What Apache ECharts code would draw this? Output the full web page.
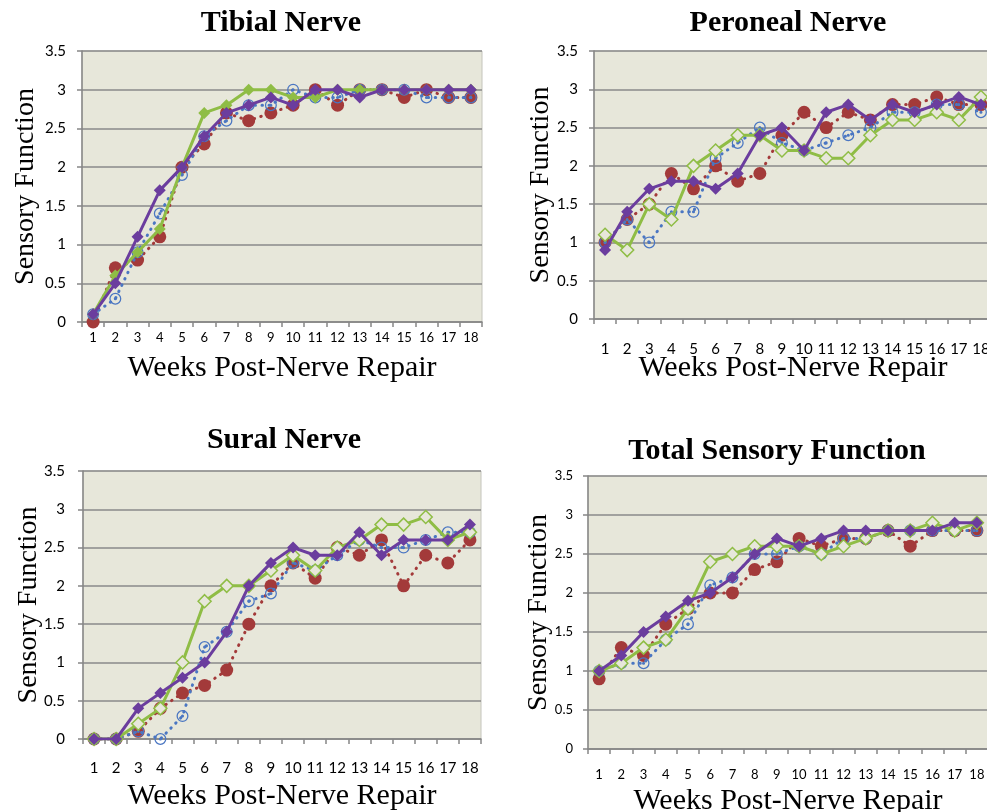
<!DOCTYPE html>
<html>
<head>
<meta charset="utf-8">
<script src="https://cdn.jsdelivr.net/npm/echarts@6/dist/echarts.min.js"></script>
<style>
html,body{margin:0;padding:0;background:#fff;}
#chart{width:987px;height:812px;}
</style>
</head>
<body>
<div id="chart"></div>
<script>
// ---- data ----
const weeks = ['1','2','3','4','5','6','7','8','9','10','11','12','13','14','15','16','17','18'];
const yMin = 0, yMax = 3.5, yStep = 0.5;

const panelTitles = ['Tibial Nerve', 'Peroneal Nerve', 'Sural Nerve', 'Total Sensory Function'];
const yAxisTitle = 'Sensory Function';
const xAxisTitle = 'Weeks Post-Nerve Repair';

// Tibial nerve
const tibialRed    = [0, 0.7, 0.8, 1.1, 2.0, 2.3, 2.7, 2.6, 2.7, 2.8, 3.0, 2.8, 3.0, 3.0, 2.9, 3.0, 2.9, 2.9];
const tibialBlue   = [0.1, 0.3, 0.9, 1.4, 1.9, 2.4, 2.6, 2.8, 2.8, 3.0, 2.9, 2.9, 3.0, 3.0, 3.0, 2.9, 2.9, 2.9];
const tibialGreen  = [0.1, 0.6, 0.9, 1.2, 2.0, 2.7, 2.8, 3.0, 3.0, 2.9, 2.9, 3.0, 3.0, 3.0, 3.0, 3.0, 3.0, 3.0];
const tibialPurple = [0.1, 0.5, 1.1, 1.7, 2.0, 2.4, 2.7, 2.8, 2.9, 2.8, 3.0, 3.0, 2.9, 3.0, 3.0, 3.0, 3.0, 3.0];

// Peroneal nerve
const peronealRed    = [1.0, 1.3, 1.5, 1.9, 1.7, 2.0, 1.8, 1.9, 2.4, 2.7, 2.5, 2.7, 2.6, 2.8, 2.8, 2.9, 2.8, 2.8];
const peronealBlue   = [1.0, 1.3, 1.0, 1.4, 1.4, 2.1, 2.3, 2.5, 2.3, 2.2, 2.3, 2.4, 2.5, 2.7, 2.7, 2.8, 2.8, 2.7];
const peronealGreen  = [1.1, 0.9, 1.5, 1.3, 2.0, 2.2, 2.4, 2.4, 2.2, 2.2, 2.1, 2.1, 2.4, 2.6, 2.6, 2.7, 2.6, 2.9];
const peronealPurple = [0.9, 1.4, 1.7, 1.8, 1.8, 1.7, 1.9, 2.4, 2.5, 2.2, 2.7, 2.8, 2.6, 2.8, 2.7, 2.8, 2.9, 2.8];

// Sural nerve
const suralRed    = [0, 0, 0.1, 0.4, 0.6, 0.7, 0.9, 1.5, 2.0, 2.3, 2.1, 2.5, 2.4, 2.6, 2.0, 2.4, 2.3, 2.6];
const suralBlue   = [0, 0, 0.1, 0.0, 0.3, 1.2, 1.4, 1.8, 1.9, 2.3, 2.2, 2.4, 2.6, 2.5, 2.5, 2.6, 2.7, 2.7];
const suralGreen  = [0, 0, 0.2, 0.4, 1.0, 1.8, 2.0, 2.0, 2.2, 2.4, 2.2, 2.5, 2.6, 2.8, 2.8, 2.9, 2.6, 2.7];
const suralPurple = [0, 0, 0.4, 0.6, 0.8, 1.0, 1.4, 2.0, 2.3, 2.5, 2.4, 2.4, 2.7, 2.4, 2.6, 2.6, 2.6, 2.8];

// Total sensory function
const totalRed    = [0.9, 1.3, 1.2, 1.6, 1.8, 2.0, 2.0, 2.3, 2.4, 2.7, 2.6, 2.7, 2.7, 2.8, 2.6, 2.8, 2.8, 2.8];
const totalBlue   = [1.0, 1.1, 1.1, 1.4, 1.6, 2.1, 2.2, 2.5, 2.5, 2.6, 2.5, 2.7, 2.7, 2.8, 2.8, 2.8, 2.8, 2.8];
const totalGreen  = [1.0, 1.1, 1.3, 1.4, 1.8, 2.4, 2.5, 2.6, 2.6, 2.6, 2.5, 2.6, 2.7, 2.8, 2.8, 2.9, 2.8, 2.9];
const totalPurple = [1.0, 1.2, 1.5, 1.7, 1.9, 2.0, 2.2, 2.5, 2.7, 2.6, 2.7, 2.8, 2.8, 2.8, 2.8, 2.8, 2.9, 2.9];

// ---- styling / layout ----
const C_RED = '#a33a3a', C_BLUE = '#4a76c2', C_GREEN = '#8fbd45', C_PURPLE = '#6b3d9e';
const PLOT_BG = '#e7e7da';
const GRID_LINE = '#8a8a8a';
const SERIF = '"Liberation Serif", "Times New Roman", serif';
const SANS = 'Lato, "Open Sans", sans-serif';
const ringDot = 'path://M0,-10A10,10,0,1,1,0,10A10,10,0,1,1,0,-10ZM0,-7.9A7.9,7.9,0,1,0,0,7.9A7.9,7.9,0,1,0,0,-7.9ZM0,-2.6A2.6,2.6,0,1,1,0,2.6A2.6,2.6,0,1,1,0,-2.6Z';

const panels = [
  { data: [tibialRed, tibialBlue, tibialGreen, tibialPurple], greenFilled: true,
    grid: {left: 82, top: 51, width: 400, height: 271},
    titleX: 281, titleTop: 8, xFont: 13, yFont: 15, xMargin: 9, yMargin: 16, xNameGap: 31, yNameGap: 42 },
  { data: [peronealRed, peronealBlue, peronealGreen, peronealPurple], greenFilled: false,
    grid: {left: 594, top: 51, width: 398, height: 268},
    titleX: 788, titleTop: 8, xFont: 15, yFont: 15, xMargin: 23, yMargin: 16, xNameGap: 34, yNameGap: 39 },
  { data: [suralRed, suralBlue, suralGreen, suralPurple], greenFilled: false,
    grid: {left: 83, top: 471, width: 398, height: 268},
    titleX: 284, titleTop: 425, xFont: 15, yFont: 15, xMargin: 22, yMargin: 18, xNameGap: 42, yNameGap: 40 },
  { data: [totalRed, totalBlue, totalGreen, totalPurple], greenFilled: false,
    grid: {left: 588, top: 476, width: 400, height: 273},
    titleX: 777, titleTop: 436, xFont: 13, yFont: 13, xMargin: 19, yMargin: 15, xNameGap: 37, yNameGap: 35 }
];

const option = {
  backgroundColor: '#ffffff',
  animation: false,
  title: [], grid: [], xAxis: [], yAxis: [], series: []
};

panels.forEach((p, i) => {
  option.title.push({
    text: panelTitles[i], left: p.titleX, top: p.titleTop, textAlign: 'center', padding: 0,
    textStyle: { fontFamily: SERIF, fontWeight: 'bold', fontSize: 30, color: '#000' }
  });
  option.grid.push(Object.assign({
    show: true, backgroundColor: PLOT_BG, borderColor: '#c4c4bc', borderWidth: 1,
    containLabel: false, outerBoundsMode: 'none'
  }, p.grid));
  option.xAxis.push({
    type: 'category', gridIndex: i, data: weeks, boundaryGap: true,
    name: xAxisTitle, nameLocation: 'middle', nameGap: p.xNameGap, nameMoveOverlap: false,
    nameTextStyle: { fontFamily: SERIF, fontSize: 30, color: '#000' },
    axisLine: { show: true, lineStyle: { color: '#868686', width: 1.5 } },
    axisTick: { show: true, length: 5, inside: false, alignWithLabel: false, interval: 0, lineStyle: { color: '#868686', width: 1.5 } },
    axisLabel: { interval: 0, margin: p.xMargin, fontFamily: SANS, fontSize: p.xFont, color: '#000', hideOverlap: false },
    splitLine: { show: false }
  });
  option.yAxis.push({
    type: 'value', gridIndex: i, min: yMin, max: yMax, interval: yStep,
    name: yAxisTitle, nameLocation: 'middle', nameGap: p.yNameGap, nameRotate: 90, nameMoveOverlap: false,
    nameTextStyle: { fontFamily: SERIF, fontSize: 28, color: '#000' },
    axisLine: { show: true, lineStyle: { color: '#868686', width: 1.5 } },
    axisTick: { show: true, length: 5, lineStyle: { color: '#868686', width: 1.5 } },
    axisLabel: { margin: p.yMargin, fontFamily: SANS, fontSize: p.yFont, color: '#000' },
    splitLine: { show: true, lineStyle: { color: GRID_LINE, width: 1.5 } }
  });
  const [red, blue, green, purple] = p.data;
  option.series.push({
    type: 'line', xAxisIndex: i, yAxisIndex: i, data: red, z: 2,
    symbol: 'circle', symbolSize: 13, showAllSymbol: true,
    lineStyle: { color: C_RED, width: 3, type: [0.5, 6.5], cap: 'round' },
    itemStyle: { color: C_RED }
  });
  option.series.push({
    type: 'line', xAxisIndex: i, yAxisIndex: i, data: blue, z: 3,
    symbol: ringDot, symbolSize: 12, showAllSymbol: true,
    lineStyle: { color: C_BLUE, width: 3, type: [0.5, 6.5], cap: 'round' },
    itemStyle: { color: C_BLUE, borderWidth: 0 }
  });
  option.series.push({
    type: 'line', xAxisIndex: i, yAxisIndex: i, data: green, z: 4,
    symbol: 'diamond', symbolSize: p.greenFilled ? 12 : 13, showAllSymbol: true,
    lineStyle: { color: C_GREEN, width: 3 },
    itemStyle: p.greenFilled ? { color: C_GREEN } : { color: PLOT_BG, borderColor: C_GREEN, borderWidth: 1.5 }
  });
  option.series.push({
    type: 'line', xAxisIndex: i, yAxisIndex: i, data: purple, z: 5,
    symbol: 'diamond', symbolSize: 12, showAllSymbol: true,
    lineStyle: { color: C_PURPLE, width: 3 },
    itemStyle: { color: C_PURPLE }
  });
});

const chart = echarts.init(document.getElementById('chart'), null, { renderer: 'canvas' });
chart.setOption(option);
</script>
</body>
</html>
